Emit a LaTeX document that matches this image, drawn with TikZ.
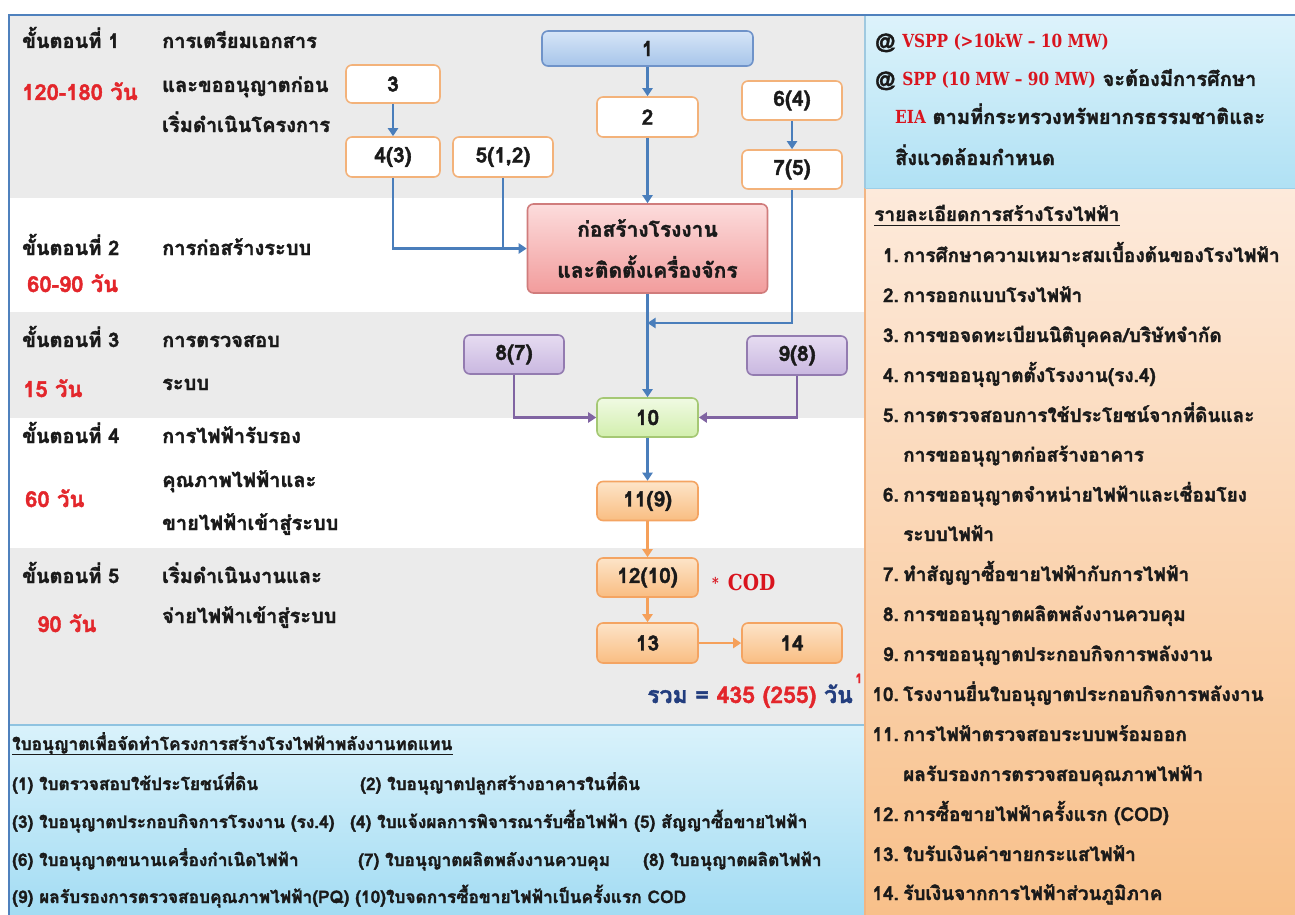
\documentclass[tikz,border=0pt]{standalone}
\usepackage{fontspec}
\usepackage{graphicx}
\setmainfont[Script=Thai, BoldFeatures={FakeBold=1.8}]{Loma}
\newfontfamily\slab{DejaVu Serif}
\newcommand{\slabtxt}[2]{{\slab\bfseries\fontsize{#1}{20}\selectfont\scalebox{0.85}[1]{#2}}}
\usetikzlibrary{arrows.meta}
\definecolor{frameblue}{HTML}{4F81BD}
\definecolor{arrblue}{HTML}{4A7EBB}
\definecolor{arrpurple}{HTML}{8064A2}
\definecolor{arrorange}{HTML}{F5A05A}
\definecolor{bandgray}{HTML}{EBEBEB}
\definecolor{stagered}{HTML}{E3262B}
\definecolor{navy}{HTML}{223D7E}
\definecolor{codred}{HTML}{D9141E}
\definecolor{ink}{HTML}{1A1A1A}
\definecolor{wborder}{HTML}{F3B27A}
\definecolor{oborder}{HTML}{F4A462}
\definecolor{oA}{HTML}{FDE4C8}
\definecolor{oB}{HTML}{F9BD82}
\definecolor{pA}{HTML}{E6DCF1}
\definecolor{pB}{HTML}{C9B7E0}
\definecolor{gborder}{HTML}{A5C874}
\definecolor{gA}{HTML}{F0FAE3}
\definecolor{gB}{HTML}{D2EFAD}
\definecolor{bborder}{HTML}{6F93C9}
\definecolor{bA}{HTML}{D6E5F7}
\definecolor{bB}{HTML}{A7C5EA}
\definecolor{rborder}{HTML}{D07C7C}
\definecolor{rA}{HTML}{FCDCDC}
\definecolor{rB}{HTML}{F29C9C}
\definecolor{topA}{HTML}{DDF3FB}
\definecolor{topB}{HTML}{B0E1F4}
\definecolor{orA}{HTML}{FDEADB}
\definecolor{orB}{HTML}{F8C08A}
\definecolor{botA}{HTML}{D9F2FB}
\definecolor{botB}{HTML}{A3DCF3}
\definecolor{lineA}{HTML}{8FC3E0}
\definecolor{lineB}{HTML}{9FC9E0}
\definecolor{lineC}{HTML}{F2B583}
\definecolor{lineD}{HTML}{9CCFE8}
\tikzset{
  txt/.style={anchor=base west, inner sep=0pt, text=ink, font=\fontsize{20}{24}\selectfont\bfseries},
  red/.style={text=stagered, font=\fontsize{22}{26}\selectfont\bfseries},
  lst/.style={anchor=base west, inner sep=0pt, text=ink, font=\fontsize{19}{23}\selectfont\bfseries},
  bls/.style={anchor=base west, inner sep=0pt, text=ink, font=\fontsize{17.3}{21}\selectfont\bfseries},
  num/.style={anchor=base east, inner sep=0pt, text=ink, font=\fontsize{19}{23}\selectfont\bfseries},
  box/.style={rounded corners=6pt, line width=1.6pt, minimum width=100pt, minimum height=39pt, inner sep=0pt, text=ink, font=\fontsize{21}{24}\selectfont\bfseries},
  wbox/.style={box, draw=wborder, fill=white},
  obox/.style={box, draw=oborder, top color=oA, bottom color=oB},
  pbox/.style={box, draw=arrpurple!85, top color=pA, bottom color=pB},
  gbox/.style={box, draw=gborder, top color=gA, bottom color=gB},
  bbox/.style={box, draw=bborder, top color=bA, bottom color=bB},
  rbox/.style={box, draw=rborder, top color=rA, bottom color=rB},
  conn/.style={line width=2.2pt, draw=arrblue, -{Triangle[width=10pt,length=8pt]}},
  pconn/.style={conn, draw=arrpurple},
  oconn/.style={conn, draw=arrorange},
}
\begin{document}
\begin{tikzpicture}[x=1pt,y=-1pt]
\useasboundingbox (0,0) rectangle (1295,915);
\fill[white] (0,0) rectangle (1295,915);
% background bands
\fill[bandgray] (9,15) rectangle (865,198);
\fill[bandgray] (9,312) rectangle (865,418);
\fill[bandgray] (9,548) rectangle (865,725);
% right panels and bottom panel
\shade[top color=topA, bottom color=topB] (865,15) rectangle (1295,188);
\shade[top color=orA, bottom color=orB] (865,188) rectangle (1295,915);
\shade[top color=botA, bottom color=botB] (9,725) rectangle (865,915);
\draw[line width=1.2pt, lineA] (9,725) -- (865,725);
\draw[line width=1.2pt, lineB] (865,15) -- (865,188);
\draw[line width=1.2pt, lineC] (865,188) -- (865,915);
\draw[line width=1pt, lineD] (865,188) -- (1295,188);
% outer frame
\draw[line width=2.4pt, frameblue] (9,915) -- (9,15) -- (1295,15);

% stage labels
\node[txt] at (22,48) {ขั้นตอนที่ 1};
\node[txt, red] at (22,100) {120-180 วัน};
\node[txt] at (162,48) {การเตรียมเอกสาร};
\node[txt] at (162,92) {และขออนุญาตก่อน};
\node[txt] at (162,132) {เริ่มดำเนินโครงการ};
\node[txt] at (22,255) {ขั้นตอนที่ 2};
\node[txt, red] at (27,292) {60-90 วัน};
\node[txt] at (162,255) {การก่อสร้างระบบ};
\node[txt] at (22,347) {ขั้นตอนที่ 3};
\node[txt, red] at (23,397) {15 วัน};
\node[txt] at (162,347) {การตรวจสอบ};
\node[txt] at (162,390) {ระบบ};
\node[txt] at (22,443) {ขั้นตอนที่ 4};
\node[txt, red] at (25,507) {60 วัน};
\node[txt] at (162,443) {การไฟฟ้ารับรอง};
\node[txt] at (162,487) {คุณภาพไฟฟ้าและ};
\node[txt] at (162,530) {ขายไฟฟ้าเข้าสู่ระบบ};
\node[txt] at (22,583) {ขั้นตอนที่ 5};
\node[txt, red] at (37,632) {90 วัน};
\node[txt] at (162,583) {เริ่มดำเนินงานและ};
\node[txt] at (162,623) {จ่ายไฟฟ้าเข้าสู่ระบบ};

% flow nodes
\node[bbox, minimum width=211pt, minimum height=35pt] (n1) at (647.5,48.5) {1};
\node[wbox, minimum width=101pt, minimum height=40pt] (n2) at (647.5,117) {2};
\node[wbox, minimum width=94pt, minimum height=38pt] (n3) at (393,84) {3};
\node[wbox, minimum width=94pt, minimum height=40pt] (n4) at (393,157) {4(3)};
\node[wbox, minimum height=40pt] (n5) at (503,157) {5(1,2)};
\node[wbox] (n6) at (792,100.5) {6(4)};
\node[wbox] (n7) at (792,169.5) {7(5)};
\node[rbox, minimum width=240pt, minimum height=89pt, align=center, font=\fontsize{21}{41}\selectfont\bfseries] (nc) at (647.5,248.5) {ก่อสร้างโรงงาน\\และติดตั้งเครื่องจักร};
\node[pbox] (n8) at (514,354.5) {8(7)};
\node[pbox] (n9) at (797,355.5) {9(8)};
\node[gbox, minimum width=101pt] (n10) at (647.5,417.5) {10};
\node[obox, minimum width=101pt] (n11) at (647.5,501) {11(9)};
\node[obox, minimum width=101pt] (n12) at (647.5,577.5) {12(10)};
\node[obox, minimum width=101pt, minimum height=40pt] (n13) at (647.5,643) {13};
\node[obox, minimum height=40pt] (n14) at (792,643) {14};
\coordinate (j7) at (647.5,323);

% connectors
\draw[conn] (n1) -- (n2);
\draw[conn] (n2) -- (nc);
\draw[conn] (n3) -- (n4);
\draw[conn] (n6) -- (n7);
\draw[conn] (n4.south) |- (nc.west);
\draw[conn, -] (n5.south) -- (n5.south |- nc.west);
\draw[conn] (nc) -- (n10);
\draw[conn] (n7.south) |- (j7);
\draw[pconn] (n8.south) |- (n10.west);
\draw[pconn] (n9.south) |- (n10.east);
\draw[conn] (n10) -- (n11);
\draw[oconn] (n11) -- (n12);
\draw[oconn] (n12) -- (n13);
\draw[oconn] (n13) -- (n14);

\node[anchor=base west, inner sep=0pt, text=codred] (cod) at (712,590) {\raisebox{2pt}{\slabtxt{15}{*}}\hspace{9pt}\slabtxt{22}{COD}};
\node[anchor=base east, inner sep=0pt, font=\fontsize{23}{26}\selectfont\bfseries] (sum) at (853,703) {\textcolor{navy}{รวม =} \textcolor{stagered}{435 (255)} \textcolor{navy}{วัน}};
\node[anchor=base west, inner sep=0pt, text=stagered, font=\fontsize{13}{14}\selectfont\bfseries] (sup) at (855,683) {1};

% right top box
\node[txt] at (875,48) {@ \textcolor{codred}{\slabtxt{18}{VSPP (>10kW – 10 MW)}}};
\node[txt] at (875,86) {@ \textcolor{codred}{\slabtxt{18}{SPP (10 MW – 90 MW)}} จะต้องมีการศึกษา};
\node[txt] at (895,124) {\textcolor{codred}{\slabtxt{18}{EIA}} ตามที่กระทรวงทรัพยากรธรรมชาติและ};
\node[txt] at (895,165) {สิ่งแวดล้อมกำหนด};

% right orange list
\node[lst] (rt) at (874,221) {รายละเอียดการสร้างโรงไฟฟ้า};
\draw[line width=1pt, ink] ([yshift=-4pt]rt.base west) -- ([yshift=-4pt]rt.base east);
\node[num] at (899,262) {1.};
\node[lst] at (903,262) {การศึกษาความเหมาะสมเบื้องต้นของโรงไฟฟ้า};
\node[num] at (899,302) {2.};
\node[lst] at (903,302) {การออกแบบโรงไฟฟ้า};
\node[num] at (899,342) {3.};
\node[lst] at (903,342) {การขอจดทะเบียนนิติบุคคล/บริษัทจำกัด};
\node[num] at (899,382) {4.};
\node[lst] at (903,382) {การขออนุญาตตั้งโรงงาน(รง.4)};
\node[num] at (899,422) {5.};
\node[lst] at (903,422) {การตรวจสอบการใช้ประโยชน์จากที่ดินและ};
\node[lst] at (903,461.5) {การขออนุญาตก่อสร้างอาคาร};
\node[num] at (899,501.5) {6.};
\node[lst] at (903,501.5) {การขออนุญาตจำหน่ายไฟฟ้าและเชื่อมโยง};
\node[lst] at (903,541) {ระบบไฟฟ้า};
\node[num] at (899,581) {7.};
\node[lst] at (903,581) {ทำสัญญาซื้อขายไฟฟ้ากับการไฟฟ้า};
\node[num] at (899,621) {8.};
\node[lst] at (903,621) {การขออนุญาตผลิตพลังงานควบคุม};
\node[num] at (899,661) {9.};
\node[lst] at (903,661) {การขออนุญาตประกอบกิจการพลังงาน};
\node[num] at (899,701) {10.};
\node[lst] at (903,701) {โรงงานยื่นใบอนุญาตประกอบกิจการพลังงาน};
\node[num] at (899,741) {11.};
\node[lst] at (903,741) {การไฟฟ้าตรวจสอบระบบพร้อมออก};
\node[lst] at (903,781) {ผลรับรองการตรวจสอบคุณภาพไฟฟ้า};
\node[num] at (899,821) {12.};
\node[lst] at (903,821) {การซื้อขายไฟฟ้าครั้งแรก (COD)};
\node[num] at (899,861) {13.};
\node[lst] at (903,861) {ใบรับเงินค่าขายกระแสไฟฟ้า};
\node[num] at (899,900) {14.};
\node[lst] at (903,900) {รับเงินจากการไฟฟ้าส่วนภูมิภาค};

% bottom panel
\node[bls] (bt) at (12,750) {ใบอนุญาตเพื่อจัดทำโครงการสร้างโรงไฟฟ้าพลังงานทดแทน};
\draw[line width=1pt, ink] ([yshift=-4pt]bt.base west) -- ([yshift=-4pt]bt.base east);
\node[bls] at (12,790) {(1) ใบตรวจสอบใช้ประโยชน์ที่ดิน};
\node[bls] at (360,790) {(2) ใบอนุญาตปลูกสร้างอาคารในที่ดิน};
\node[bls] at (12,828) {(3) ใบอนุญาตประกอบกิจการโรงงาน (รง.4)};
\node[bls] at (350,828) {(4) ใบแจ้งผลการพิจารณารับซื้อไฟฟ้า};
\node[bls] at (634,828) {(5) สัญญาซื้อขายไฟฟ้า};
\node[bls] at (12,866) {(6) ใบอนุญาตขนานเครื่องกำเนิดไฟฟ้า};
\node[bls] at (358,866) {(7) ใบอนุญาตผลิตพลังงานควบคุม};
\node[bls] at (643,866) {(8) ใบอนุญาตผลิตไฟฟ้า};
\node[bls] at (12,903) {(9) ผลรับรองการตรวจสอบคุณภาพไฟฟ้า(PQ) (10)ใบจดการซื้อขายไฟฟ้าเป็นครั้งแรก COD};
\end{tikzpicture}
\end{document}
